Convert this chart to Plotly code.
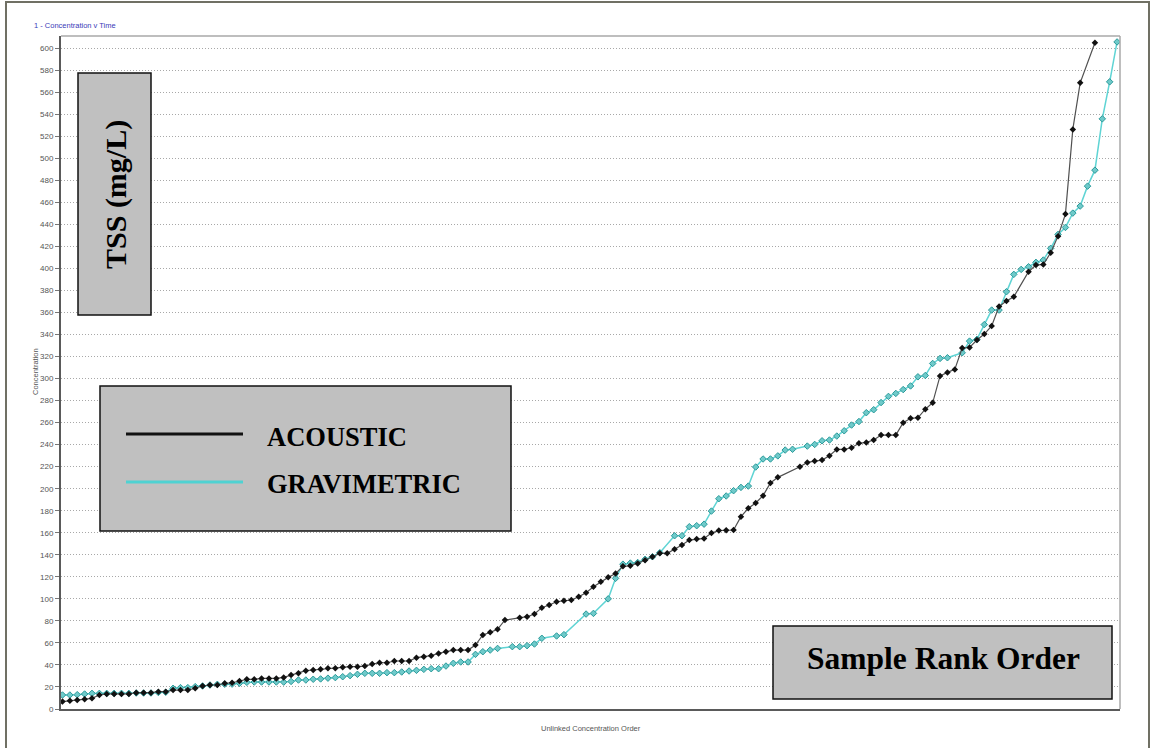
import plotly.graph_objects as go

# ---- data ----
acoustic = [
    6.7, 7.5, 8.2, 8.8, 9.7, 12.7, 13.6, 13.6, 13.6, 13.6,
    14.8, 14.8, 14.8, 15.7, 15.7, 17.2, 17.2, 17.2, 18.8, 20.9,
    21.8, 21.8, 23.3, 23.8, 25.4, 26.9, 26.9, 27.8, 27.8, 27.8,
    28.7, 30.9, 32.4, 34.8, 35.4, 36.0, 36.9, 36.9, 37.8, 38.4,
    38.4, 39.0, 40.8, 42.0, 42.0, 43.6, 43.6, 43.6, 46.6, 47.5,
    48.4, 50.5, 52.0, 53.5, 53.5, 53.5, 58.0, 67.2, 69.6, 72.3,
    80.8, None, 82.9, 83.8, 86.2, 92.0, 94.4, 97.4, 98.3, 98.9,
    101.9, 105.6, 111.0, 115.6, 119.5, 123.0, 129.5, 130.0, 132.2, 135.0,
    138.2, 141.3, 141.3, 145.0, 148.9, 153.4, 154.3, 154.9, 159.7, 162.0,
    162.3, 162.5, 174.6, 182.2, 187.0, 193.7, 205.2, 210.3, None, None,
    220.0, 223.9, 225.1, 226.0, 229.9, 235.7, 235.7, 237.2, 241.2, 242.0,
    244.2, 248.7, 248.7, 248.7, 259.9, 263.9, 264.4, 272.2, 278.0, 302.4,
    305.6, 308.3, 327.7, 328.2, 335.0, 340.4, 347.7, 365.5, 370.5, 374.3,
    None, 397.0, 403.0, 403.6, 414.2, 429.3, 449.3, 526.2, 568.5, None,
    604.8,
]

gravimetric = [
    12.7, 12.7, 13.0, 13.6, 14.2, 14.2, 14.2, 14.2, 14.2, 14.2,
    14.5, 14.5, 14.5, 15.0, 15.2, 18.8, 19.4, 19.4, 20.3, 20.9,
    21.8, 22.4, 22.5, 22.6, 23.3, 24.2, 24.5, 24.5, 24.5, 24.5,
    24.4, 25.0, 26.3, 26.3, 27.0, 27.3, 28.0, 28.5, 29.3, 30.3,
    31.5, 32.4, 32.4, 32.4, 33.0, 33.0, 33.6, 34.5, 35.1, 36.0,
    36.6, 36.6, 39.0, 41.5, 42.7, 42.7, 49.6, 52.0, 53.5, 55.0,
    None, 56.6, 56.6, 57.5, 59.0, 64.2, None, 66.3, 67.5, None,
    None, 86.2, 86.8, None, 100.0, 118.6, 131.5, 132.5, 133.0, 135.9,
    138.2, 141.9, None, 157.3, 157.3, 165.5, 166.4, 167.8, 179.7, 190.9,
    193.4, 198.2, 201.2, 202.4, 219.7, 227.0, 227.0, 229.8, 235.1, 235.8,
    None, 238.7, 240.2, 243.5, 244.2, 247.8, 252.6, 257.8, 261.0, 269.0,
    271.7, 278.2, 283.8, 286.5, 290.0, 293.3, 301.6, 302.8, 313.7, 318.3,
    318.9, None, 323.4, 334.0, 335.6, 349.0, 362.2, 362.2, 378.8, 394.6,
    399.1, 401.5, 405.5, 407.6, 418.2, 430.9, 437.2, 450.2, 456.6, 474.7,
    489.2, 535.8, 569.4, 605.6,
]

y_ticks = list(range(0, 601, 20))
series_names = ["ACOUSTIC", "GRAVIMETRIC"]

# ---- layout geometry (pixels) ----
W, H = 1151, 748
L, R, T, B = 61, 1120, 36, 709


def px(x):
    return (x - L) / (R - L)


def py(y):
    return (B - y) / (B - T)


fig = go.Figure()

fig.add_trace(go.Scatter(
    x=list(range(len(gravimetric))), y=gravimetric, name=series_names[1],
    mode="lines+markers", connectgaps=True,
    line=dict(color="#5fd4d4", width=1.5),
    marker=dict(symbol="diamond", size=5, color="#6fcaca",
                line=dict(color="#2b9a9a", width=1)),
))
fig.add_trace(go.Scatter(
    x=list(range(len(acoustic))), y=acoustic, name=series_names[0],
    mode="lines+markers", connectgaps=True,
    line=dict(color="#505050", width=1.2),
    marker=dict(symbol="diamond", size=5, color="#111111"),
))

shapes = []
annotations = []

# outer frame
shapes.append(dict(type="rect", xref="paper", yref="paper",
                   x0=px(6), x1=px(1149), y0=py(770), y1=py(2),
                   line=dict(color="#707064", width=2), layer="above"))
# top & right plot border
shapes.append(dict(type="line", xref="paper", yref="paper",
                   x0=0, x1=1, y0=1, y1=1,
                   line=dict(color="#a8a8a8", width=1.5)))
shapes.append(dict(type="line", xref="paper", yref="paper",
                   x0=1, x1=1, y0=0, y1=1,
                   line=dict(color="#a8a8a8", width=1.5)))

serif = "Liberation Serif, Times New Roman, serif"


def label(x, y, text, size, family, color="black", angle=0, xanchor="center"):
    annotations.append(dict(xref="paper", yref="paper", x=px(x), y=py(y),
                            xanchor=xanchor, yanchor="middle", text=text,
                            showarrow=False, textangle=angle,
                            font=dict(family=family, size=size, color=color)))


def box(x0, x1, y0, y1):
    shapes.append(dict(type="rect", xref="paper", yref="paper",
                       x0=px(x0), x1=px(x1), y0=py(y1), y1=py(y0),
                       fillcolor="#c0c0c0", line=dict(color="#111111", width=1.5),
                       layer="above"))


# TSS box
box(78, 151, 73, 315)
label(116, 195, "<b>TSS (mg/L)</b>", 30, serif, angle=-90)

# legend box
box(100, 511, 386, 531)
shapes.append(dict(type="line", xref="paper", yref="paper",
                   x0=px(126), x1=px(243), y0=py(434), y1=py(434),
                   line=dict(color="#111111", width=3), layer="above"))
shapes.append(dict(type="line", xref="paper", yref="paper",
                   x0=px(126), x1=px(243), y0=py(482), y1=py(482),
                   line=dict(color="#4fd2d2", width=3), layer="above"))
label(265, 437, "<b>" + series_names[0] + "</b>", 26.5, serif, xanchor="left")
label(265, 484, "<b>" + series_names[1] + "</b>", 26.5, serif, xanchor="left")

# Sample Rank Order box
box(773, 1112, 626, 699)
label(943, 658, "<b>Sample Rank Order</b>", 31.5, serif)

sans = "Liberation Sans, Arial, sans-serif"
label(32, 25, "1 - Concentration v Time", 7.5, sans, color="#3a3ab8", xanchor="left")
label((L + R) / 2, 729, "Unlinked Concentration Order", 7.5, sans, color="#555555")
label(35, 372, "Concentration", 7.5, sans, color="#555555", angle=-90)

fig.update_layout(
    width=W, height=H,
    margin=dict(l=L, r=W - R, t=T, b=H - B, pad=0),
    paper_bgcolor="white", plot_bgcolor="white",
    showlegend=False,
    shapes=shapes, annotations=annotations,
    xaxis=dict(range=[-0.2, 143.4], showgrid=False, zeroline=False,
               showticklabels=False, ticks="", showline=True,
               linecolor="#5a5a5a", linewidth=2),
    yaxis=dict(range=[0, 611], tickvals=y_ticks, showgrid=True,
               gridcolor="#a8a8a8", griddash="1px,2px", gridwidth=1,
               zeroline=False, showline=True, linecolor="#5a5a5a", linewidth=2,
               ticks="outside", ticklen=4, tickcolor="#777777",
               tickfont=dict(family=sans, size=8, color="#555555")),
)

fig.write_html("out.html")
